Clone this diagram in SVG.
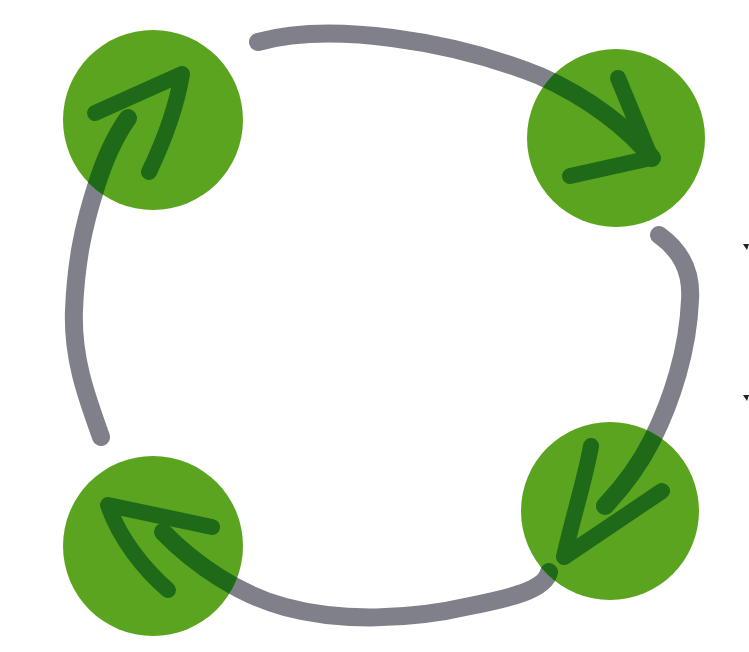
<svg xmlns="http://www.w3.org/2000/svg" width="749" height="652" viewBox="0 0 749 652">
<style>
.gray{fill:none;stroke:#80808a;stroke-width:18;stroke-linecap:round;stroke-linejoin:round}
.dark{fill:none;stroke:#1f6a18;stroke-width:18;stroke-linecap:round;stroke-linejoin:round}
.head{fill:none;stroke:#1f6a18;stroke-width:16;stroke-linecap:round;stroke-linejoin:round}
.node{fill:#5aa41f}
.mark{fill:#222}
</style>
<defs>
<clipPath id="circles">
<circle cx="153" cy="120" r="90"/>
<circle cx="616" cy="138" r="89"/>
<circle cx="610" cy="511" r="89"/>
<circle cx="153" cy="546" r="90"/>
</clipPath>
<path id="arc-top" d="M258,42 C330,22 450,40 540,76 C590,98 630,130 652,158"/>
<path id="arc-right" d="M659,235 C680,250 692,270 690,300 C688,350 672,400 652,440 C637,470 620,490 605,506"/>
<path id="arc-bottom" d="M549,572 C545,590 510,598 470,606 C410,620 340,622 285,607 C240,595 195,565 163,532"/>
<path id="arc-left" d="M101,437 C88,400 72,360 74,310 C76,260 84,225 95,190 C104,160 116,135 128,118"/>
</defs>
<rect width="749" height="652" fill="#ffffff"/>
<g id="connectors">
<use href="#arc-top" class="gray"/>
<use href="#arc-right" class="gray"/>
<use href="#arc-bottom" class="gray"/>
<use href="#arc-left" class="gray"/>
</g>
<g id="node-top-left"><circle class="node" cx="153" cy="120" r="90"/></g>
<g id="node-top-right"><circle class="node" cx="616" cy="138" r="89"/></g>
<g id="node-bottom-right"><circle class="node" cx="610" cy="511" r="89"/></g>
<g id="node-bottom-left"><circle class="node" cx="153" cy="546" r="90"/></g>
<g id="connectors-over-nodes">
<g clip-path="url(#circles)">
<use href="#arc-top" class="dark"/>
<use href="#arc-right" class="dark"/>
<use href="#arc-bottom" class="dark"/>
<use href="#arc-left" class="dark"/>
</g>
<path class="head" d="M618,78 L651,158 L570,176"/>
<path class="head" d="M591,446 C585,480 572,520 564,557 L662,491"/>
<path class="head" d="M212,527 L108,505 C120,540 145,570 168,590"/>
<path class="head" d="M95,113 L182,74 C176,110 162,145 149,172"/>
</g>
<polygon class="mark" points="743,244 749,244 747,250"/>
<polygon class="mark" points="743,395 749,395 747,401"/>
</svg>
